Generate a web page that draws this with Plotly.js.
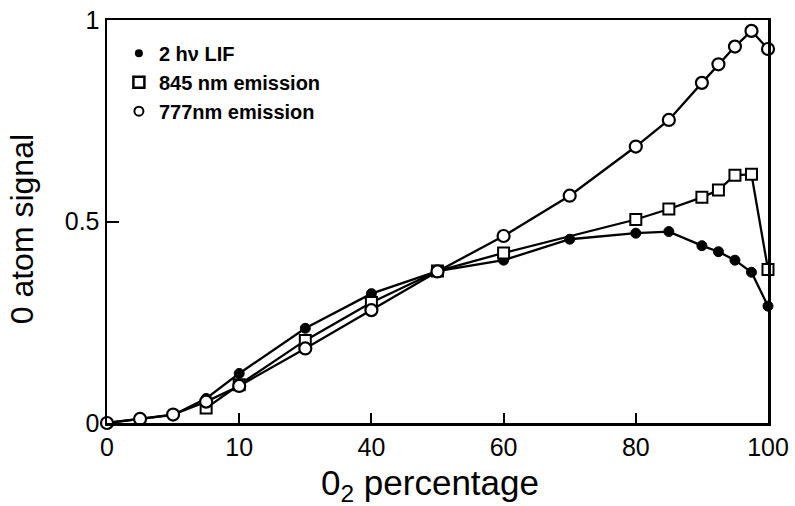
<!DOCTYPE html>
<html><head><meta charset="utf-8">
<script src="https://cdn.plot.ly/plotly-3.0.1.min.js"></script>
<style>body{margin:0;background:#fff}</style>
</head><body><div id="chart" style="width:795px;height:506px"></div>
<script>
const xLIF = [0,5,10,15,20,30,40,50,60,70,80,85,90,92.5,95,97.5,100];
const yLIF = [0,0.01,0.02,0.061,0.123,0.235,0.321,0.377,0.404,0.456,0.471,0.475,0.44,0.425,0.404,0.374,0.29];
const x845 = [15,20,30,40,50,60,80,85,90,92.5,95,97.5,100];
const y845 = [0.037,0.095,0.205,0.299,0.377,0.422,0.505,0.531,0.56,0.578,0.615,0.617,0.381];
const x777 = [0,5,10,15,20,30,40,50,60,70,80,85,90,92.5,95,97.5,100];
const y777 = [0,0.01,0.021,0.053,0.092,0.185,0.28,0.376,0.464,0.564,0.686,0.752,0.844,0.89,0.934,0.973,0.928];
const seriesNames = ['2 hν LIF','845 nm emission','777nm emission'];
const xTicks = [0,20,40,60,80,100];
const xTickText = ['0','10','40','60','80','100'];
const yTicks = [0,0.5,1];
const yTickText = ['0','0.5','1'];

const FONT = 'Liberation Sans, Arial, sans-serif';
const line = {color:'#000', width:2.3};
const traces = [
  {x:xLIF, y:yLIF, mode:'lines+markers', showlegend:false, cliponaxis:false, line:line,
   marker:{symbol:'circle', size:10, color:'#000', line:{color:'#000', width:1}}},
  {x:x845, y:y845, mode:'lines+markers', showlegend:false, cliponaxis:false, line:line,
   marker:{symbol:'square', size:11, color:'#fff', line:{color:'#000', width:2}}},
  {x:x777, y:y777, mode:'lines+markers', showlegend:false, cliponaxis:false, line:line,
   marker:{symbol:'circle', size:12, color:'#fff', line:{color:'#000', width:2.2}}},
  {x:[null], y:[null], mode:'markers', name:seriesNames[0], legendgroup:'a',
   marker:{symbol:'circle', size:8, color:'#000'}},
  {x:[null], y:[null], mode:'markers', name:seriesNames[1], legendgroup:'b',
   marker:{symbol:'square', size:11, color:'#fff', line:{color:'#000', width:2.5}}},
  {x:[null], y:[null], mode:'markers', name:seriesNames[2], legendgroup:'c',
   marker:{symbol:'circle', size:9, color:'#fff', line:{color:'#000', width:2}}}
];
const layout = {
  width:795, height:506,
  margin:{l:107, r:27, t:20, b:83},
  paper_bgcolor:'#fff', plot_bgcolor:'#fff',
  font:{family:FONT, color:'#000', size:25},
  showlegend:true,
  legend:{x:0.018, y:0.966, xanchor:'left', yanchor:'top', bgcolor:'rgba(0,0,0,0)',
    font:{family:FONT, size:20, color:'#000', weight:'bold'}, tracegroupgap:0, itemwidth:30},
  xaxis:{range:[0,100], tickvals:xTicks, ticktext:xTickText, showline:true, linewidth:2.5, linecolor:'#000',
    mirror:true, ticks:'inside', ticklen:10, tickwidth:2, tickcolor:'#000', showgrid:false, zeroline:false,
    tickfont:{family:FONT, size:25}},
  yaxis:{range:[0,1], tickvals:yTicks, ticktext:yTickText, showline:true, linewidth:2.5, linecolor:'#000',
    mirror:true, ticks:'inside', ticklen:12, tickwidth:2, tickcolor:'#000', showgrid:false, zeroline:false,
    tickfont:{family:FONT, size:25}},
  annotations:[
    {text:'0 atom signal', xref:'paper', yref:'paper', x:-0.129, y:0.48, textangle:-90,
     showarrow:false, xanchor:'center', yanchor:'middle', font:{family:FONT, size:32, color:'#000'}},
    {text:'0<sub>2</sub> percentage', xref:'paper', yref:'paper', x:0.489, y:-0.155,
     showarrow:false, xanchor:'center', yanchor:'middle', font:{family:FONT, size:35, color:'#000'}}
  ]
};
Plotly.newPlot('chart', traces, layout, {displayModeBar:false, staticPlot:true});
</script></body></html>
